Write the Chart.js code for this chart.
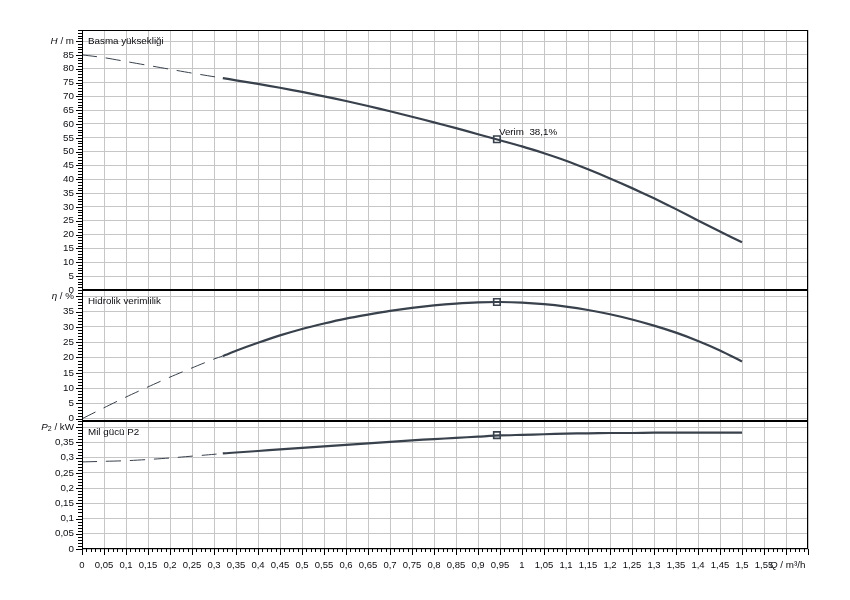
<!DOCTYPE html>
<html>
<head>
<meta charset="utf-8">
<script src="https://cdn.jsdelivr.net/npm/chart.js@4.4.0/dist/chart.umd.min.js"></script>
<style>
  html, body { margin: 0; padding: 0; background: #fff; }
  canvas { display: block; }
</style>
</head>
<body>
<canvas id="chart" width="850" height="600"></canvas>
<script>
// debi Q (m³/h)
const qValues = [0, 0.05, 0.1, 0.15, 0.2, 0.25, 0.3, 0.32, 0.35, 0.4, 0.45, 0.5, 0.55, 0.6, 0.65, 0.7, 0.75, 0.8,
  0.85, 0.9, 0.95, 1, 1.05, 1.1, 1.15, 1.2, 1.25, 1.3, 1.35, 1.4, 1.45, 1.5];
// basma yüksekliği H (m)
const headValues = [85, 84.0, 82.6, 81.2, 79.8, 78.4, 77.1, 76.6, 75.8, 74.5, 73.1, 71.6, 70.0, 68.3, 66.5, 64.6,
  62.6, 60.6, 58.5, 56.3, 54.1, 51.9, 49.4, 46.7, 43.6, 40.3, 36.8, 33.1, 29.2, 25.1, 21.1, 17.2];
// hidrolik verimlilik η (%)
const etaValues = [0, 3.6, 7.1, 10.4, 13.6, 16.6, 19.5, 20.5, 22.2, 24.8, 27.2, 29.3, 31.1, 32.7, 34.0, 35.2,
  36.2, 37.0, 37.6, 38.0, 38.1, 37.9, 37.4, 36.6, 35.5, 34.1, 32.4, 30.4, 28.1, 25.4, 22.3, 18.7];
// mil gücü P2 (kW)
const powerValues = [0.286, 0.288, 0.290, 0.294, 0.299, 0.305, 0.311, 0.314, 0.317, 0.322, 0.327, 0.332, 0.337,
  0.342, 0.347, 0.352, 0.357, 0.361, 0.365, 0.369, 0.373, 0.375, 0.377, 0.379, 0.380, 0.381, 0.381, 0.382,
  0.382, 0.382, 0.382, 0.382];
// kesikli çizginin bittiği debi
const dashEnd = 0.32;

// çalışma noktası
const opQ = 0.943;
const opH = 54.5;
const opEta = 38.1;
const opP = 0.374;

// eksen işaretleri
const xTicks = [0, 0.05, 0.1, 0.15, 0.2, 0.25, 0.3, 0.35, 0.4, 0.45, 0.5, 0.55, 0.6, 0.65, 0.7, 0.75, 0.8, 0.85,
  0.9, 0.95, 1, 1.05, 1.1, 1.15, 1.2, 1.25, 1.3, 1.35, 1.4, 1.45, 1.5, 1.55, 1.6, 1.65];
const hTicks = [0, 5, 10, 15, 20, 25, 30, 35, 40, 45, 50, 55, 60, 65, 70, 75, 80, 85, 90];
const etaTicks = [0, 5, 10, 15, 20, 25, 30, 35, 40];
const pTicks = [0, 0.05, 0.1, 0.15, 0.2, 0.25, 0.3, 0.35, 0.4];
const panelTitles = ['Basma yüksekliği', 'Hidrolik verimlilik', 'Mil gücü P2'];

const family = '"Liberation Sans", Arial, sans-serif';
const textColor = '#0d0d12';
const curveColor = '#38414c';
const gridColor = '#c6c6c6';

function fmt(v) {
  return String(Math.round(v * 100) / 100).replace('.', ',');
}

function points(ys) {
  return qValues.map((q, i) => ({x: q, y: ys[i]}));
}

const isDashed = c => c.p1.parsed.x <= dashEnd + 1e-6;

function curve(label, ys, axis) {
  return {
    label: label,
    data: points(ys),
    yAxisID: axis,
    borderColor: curveColor,
    borderWidth: 2.2,
    pointRadius: 0,
    tension: 0.25,
    fill: false,
    segment: {
      borderDash: c => isDashed(c) ? [15, 9] : undefined,
      borderWidth: c => isDashed(c) ? 1 : 2.2
    }
  };
}

function marker(y, axis) {
  return {
    data: [{x: opQ, y: y}],
    yAxisID: axis,
    showLine: false,
    pointStyle: 'rect',
    pointRadius: 4.6,
    pointBorderWidth: 1.6,
    pointBorderColor: curveColor,
    pointBackgroundColor: '#fff'
  };
}

function yScale(min, max, weight, tickVals, topTick) {
  return {
    type: 'linear',
    position: 'left',
    stack: 'panels',
    stackWeight: weight,
    min: min,
    max: max,
    afterBuildTicks: s => { s.ticks = tickVals.map(v => ({value: v})); },
    afterFit: s => { s.width = 82; },
    grid: {color: gridColor, drawTicks: false},
    border: {display: false},
    ticks: {
      autoSkip: false,
      padding: 8,
      color: textColor,
      font: {family: family, size: 9.8},
      callback: v => v === topTick ? '' : fmt(v)
    }
  };
}

// parça parça yazı (italik harf, alt simge)
function drawParts(ctx, parts, x, y, align) {
  const widths = parts.map(p => { ctx.font = p.font; return ctx.measureText(p.text).width; });
  const total = widths.reduce((a, b) => a + b, 0);
  let cx = align === 'right' ? x - total : x;
  parts.forEach((p, i) => {
    ctx.font = p.font;
    ctx.fillText(p.text, cx, y + (p.dy || 0));
    cx += widths[i];
  });
}

const panelPlugin = {
  id: 'panels',
  afterDraw(chart) {
    const ctx = chart.ctx;
    const a = chart.chartArea;
    const s = chart.scales;
    ctx.save();
    ctx.strokeStyle = '#000';
    ctx.lineWidth = 1;

    // y eksenlerindeki küçük/büyük çentikler
    [['yH', 1], ['yEta', 1], ['yP', 0.01]].forEach(([id, step]) => {
      const sc = s[id];
      const i0 = Math.ceil(sc.min / step - 1e-6);
      const i1 = Math.floor(sc.max / step + 1e-6);
      for (let i = i0; i <= i1; i++) {
        const py = Math.round(sc.getPixelForValue(i * step)) + 0.5;
        if (py < sc.top || py > sc.bottom + 0.5) continue;
        const len = i % 5 === 0 ? 6 : 4;
        ctx.beginPath();
        ctx.moveTo(a.left - len, py);
        ctx.lineTo(a.left, py);
        ctx.stroke();
      }
    });
    // x ekseni çentikleri
    for (let i = 0; i <= 165; i++) {
      const px = Math.round(s.x.getPixelForValue(i * 0.01)) + 0.5;
      const len = i % 5 === 0 ? 6 : 3;
      ctx.beginPath();
      ctx.moveTo(px, a.bottom);
      ctx.lineTo(px, a.bottom + len);
      ctx.stroke();
    }

    // çerçeve ve ayırıcılar
    ctx.strokeRect(a.left + 0.5, a.top + 0.5, a.width - 1, a.height - 1);
    ctx.fillStyle = '#000';
    [s.yEta.top, s.yP.top].forEach(t => ctx.fillRect(a.left, Math.round(t) - 1, a.width, 2));

    // eksen başlıkları
    ctx.fillStyle = textColor;
    ctx.textBaseline = 'middle';
    const reg = '9.8px ' + family;
    const ita = 'italic 9.8px ' + family;
    const small = '7px ' + family;
    drawParts(ctx, [{text: 'H', font: ita}, {text: ' / m', font: reg}], a.left - 8, s.yH.getPixelForValue(90), 'right');
    drawParts(ctx, [{text: 'η', font: ita}, {text: ' / %', font: reg}], a.left - 8, s.yEta.getPixelForValue(40), 'right');
    drawParts(ctx, [{text: 'P', font: ita}, {text: '2', font: small, dy: 2}, {text: ' / kW', font: reg}],
      a.left - 8, s.yP.getPixelForValue(0.4), 'right');
    drawParts(ctx, [{text: 'Q', font: ita}, {text: ' / m³/h', font: reg}],
      s.x.getPixelForValue(1.6) - 16, a.bottom + 16.7, 'left');

    // panel başlıkları
    ctx.font = reg;
    ctx.textAlign = 'left';
    [s.yH, s.yEta, s.yP].forEach((sc, i) => ctx.fillText(panelTitles[i], a.left + 6, sc.top + 11.5));

    // çalışma noktası yazısı
    const mx = s.x.getPixelForValue(opQ);
    const my = s.yH.getPixelForValue(opH);
    ctx.fillText('Verim  ' + fmt(opEta) + '%', mx + 2, my - 6.5);
    ctx.restore();
  }
};

new Chart(document.getElementById('chart'), {
  type: 'line',
  data: {
    datasets: [
      curve('H', headValues, 'yH'),
      curve('eta', etaValues, 'yEta'),
      curve('P2', powerValues, 'yP'),
      marker(opH, 'yH'),
      marker(opEta, 'yEta'),
      marker(opP, 'yP')
    ]
  },
  options: {
    responsive: false,
    animation: false,
    layout: {padding: {top: 30, right: 42, left: 0, bottom: 0}},
    plugins: {legend: {display: false}, tooltip: {enabled: false}},
    scales: {
      x: {
        type: 'linear',
        min: 0,
        max: 1.65,
        afterBuildTicks: s => { s.ticks = xTicks.map(v => ({value: v})); },
        afterFit: s => { s.height = 51; },
        grid: {color: gridColor, drawTicks: false},
        border: {display: false},
        ticks: {
          autoSkip: false,
          maxRotation: 0,
          minRotation: 0,
          padding: 11,
          color: textColor,
          font: {family: family, size: 9.5},
          callback: v => v >= 1.595 ? '' : fmt(v)
        }
      },
      // alttan üste: P2, η, H
      yP: yScale(0, 0.4212, 128.3, pTicks, 0.4),
      yEta: yScale(-0.65, 42.07, 131, etaTicks, 40),
      yH: yScale(0, 94, 260, hTicks, 90)
    }
  },
  plugins: [panelPlugin]
});
</script>
</body>
</html>
